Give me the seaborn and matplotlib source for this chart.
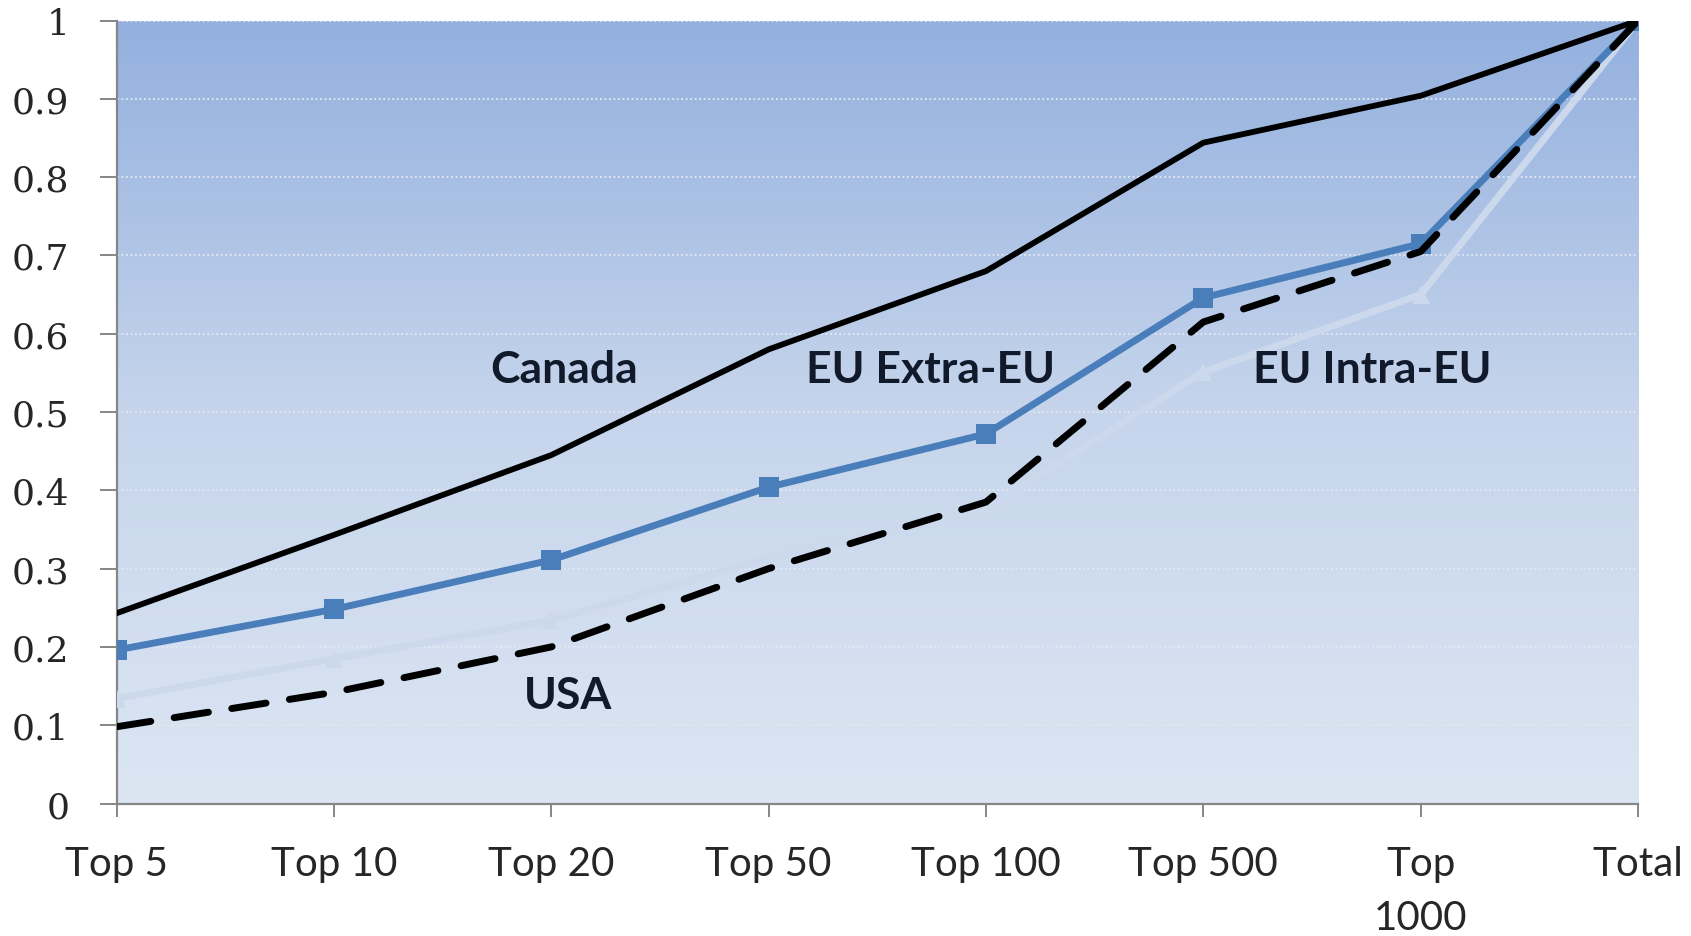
import numpy as np
import pandas as pd
import matplotlib
matplotlib.use("Agg")
import matplotlib.pyplot as plt
from matplotlib.colors import LinearSegmentedColormap
import seaborn as sns

# Cumulative share of trade by firm-size bracket
categories = ["Top 5", "Top 10", "Top 20", "Top 50", "Top 100", "Top 500", "Top\n1000", "Total"]
canada = [0.243, 0.343, 0.445, 0.580, 0.680, 0.844, 0.904, 1.0]
eu_extra = [0.196, 0.248, 0.311, 0.404, 0.472, 0.646, 0.715, 1.0]
eu_intra = [0.134, 0.185, 0.234, 0.314, 0.376, 0.551, 0.650, 1.0]
usa = [0.098, 0.142, 0.200, 0.300, 0.385, 0.615, 0.705, 1.0]
y_ticks = [0, 0.1, 0.2, 0.3, 0.4, 0.5, 0.6, 0.7, 0.8, 0.9, 1]
y_tick_labels = ["0", "0.1", "0.2", "0.3", "0.4", "0.5", "0.6", "0.7", "0.8", "0.9", "1"]

pos = list(range(len(categories)))
df = pd.DataFrame({"pos": pos, "Canada": canada, "EU Extra-EU": eu_extra,
                   "EU Intra-EU": eu_intra, "USA": usa})

sns.set_theme(style="white")
plt.rcParams["font.family"] = ["Lato", "DejaVu Sans"]

fig = plt.figure(figsize=(16.91, 9.37), dpi=100)
ax = fig.add_axes([0.0689, 0.1414, 0.8998, 0.8356])

# gradient plot-area fill
grad = LinearSegmentedColormap.from_list("bg", ["#dce6f3", "#c6d5ec", "#93b0de"])
ax.imshow(np.linspace(0, 1, 256).reshape(-1, 1), cmap=grad, aspect="auto",
          extent=[0, 1, 0, 1], transform=ax.transAxes, origin="lower", zorder=0)

for v in y_ticks[1:]:
    ax.axhline(v, color="#e3e9f2", lw=1.3, ls=(0, (1, 1.5)), zorder=1)

sns.lineplot(data=df, x="pos", y="EU Intra-EU", ax=ax, color="#ccd9ec", lw=5,
             marker="^", markersize=13, markeredgewidth=0, zorder=3)
sns.lineplot(data=df, x="pos", y="EU Extra-EU", ax=ax, color="#4a7ebb", lw=5,
             marker="s", markersize=14, markeredgewidth=0, zorder=4)
sns.lineplot(data=df, x="pos", y="USA", ax=ax, color="black", lw=5,
             dashes=False, zorder=5)
ax.lines[-1].set_dashes((5, 3.4))
ax.lines[-1].set_dash_capstyle("round")
sns.lineplot(data=df, x="pos", y="Canada", ax=ax, color="black", lw=4.2, zorder=6)

ax.set_xlim(0, len(categories) - 1)
ax.set_ylim(0, 1)
ax.set_xticks(pos)
ax.set_xticklabels(categories, fontsize=29, linespacing=1.55)
ax.set_yticks(y_ticks)
ax.set_yticklabels(y_tick_labels, fontsize=26, family="DejaVu Serif")
ax.set_xlabel("")
ax.set_ylabel("")
ax.grid(False)

for s in ["top", "right"]:
    ax.spines[s].set_visible(False)
for s in ["left", "bottom"]:
    ax.spines[s].set_color("#868686")
    ax.spines[s].set_linewidth(1.6)
ax.tick_params(axis="y", which="major", direction="out", length=12, width=1.4,
               color="#868686", pad=22, left=True)
ax.tick_params(axis="x", which="major", direction="out", length=9, width=1.4,
               color="#868686", pad=21, bottom=True)

label_kw = dict(fontsize=32, fontweight="bold", color="#111a2a", va="center", ha="left", zorder=7)
ax.text(1.72, 0.555, "Canada", **label_kw)
ax.text(3.17, 0.555, "EU Extra-EU", **label_kw)
ax.text(5.23, 0.555, "EU Intra-EU", **label_kw)
ax.text(1.875, 0.139, "USA", **label_kw)

fig.savefig("out.png", dpi=100)
